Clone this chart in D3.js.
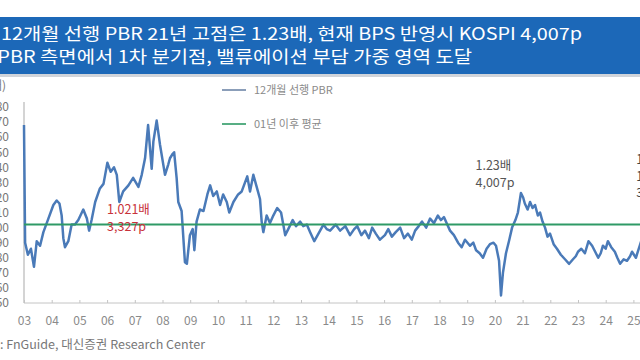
<!DOCTYPE html>
<html><head><meta charset="utf-8">
<script src="https://cdn.jsdelivr.net/npm/d3@7/dist/d3.min.js"></script>
<style>
html,body{margin:0;padding:0;background:#fff;overflow:hidden;}
svg{display:block;}
</style></head>
<body>
<script>
const titleLines = ["12개월 선행 PBR 21년 고점은 1.23배, 현재 BPS 반영시 KOSPI 4,007p",
                    "→ PBR 측면에서 1차 분기점, 밸류에이션 부담 가중 영역 도달"];
const sourceLabel = "자료";
const sourceText = ": FnGuide, 대신증권 Research Center";
const yearLabels = ["03","04","05","06","07","08","09","10","11","12","13","14","15","16","17","18","19","20","21","22","23","24","25"];
const yTicks = [0.5,0.6,0.7,0.8,0.9,1.0,1.1,1.2,1.3,1.4,1.5,1.6,1.7,1.8];
const avgPBR = 1.021;
const seriesNames = ["12개월 선행 PBR", "01년 이후 평균"];
const times = [2003.00,2003.04,2003.14,2003.25,2003.36,2003.46,2003.58,2003.70,2003.88,2004.06,2004.18,2004.28,2004.36,2004.42,2004.48,2004.60,2004.72,2004.84,2004.96,2005.14,2005.27,2005.35,2005.44,2005.57,2005.74,2005.87,2006.01,2006.13,2006.25,2006.35,2006.44,2006.58,2006.77,2006.94,2007.13,2007.25,2007.37,2007.48,2007.61,2007.67,2007.79,2007.91,2008.09,2008.21,2008.27,2008.37,2008.42,2008.51,2008.57,2008.69,2008.81,2008.88,2008.99,2009.09,2009.15,2009.23,2009.35,2009.48,2009.62,2009.72,2009.83,2009.96,2010.08,2010.19,2010.32,2010.41,2010.56,2010.73,2010.86,2010.98,2011.06,2011.16,2011.28,2011.40,2011.52,2011.58,2011.64,2011.76,2011.88,2012.00,2012.14,2012.28,2012.36,2012.43,2012.54,2012.70,2012.82,2012.97,2013.08,2013.21,2013.33,2013.48,2013.63,2013.81,2013.93,
  2014.05,2014.25,2014.41,2014.60,2014.77,2014.92,
  2015.03,2015.18,2015.31,2015.45,2015.57,2015.70,2015.85,
  2016.03,2016.15,2016.28,2016.42,2016.58,2016.72,2016.86,
  2017.00,2017.12,2017.25,2017.37,2017.52,2017.66,2017.80,2017.94,
  2018.05,2018.16,2018.28,2018.38,2018.52,2018.67,2018.80,2018.92,
  2019.10,2019.22,2019.32,2019.45,2019.57,2019.70,2019.82,2019.95,
  2020.04,2020.15,2020.22,
  2020.29,2020.40,2020.52,2020.62,2020.74,2020.83,2020.94,
  2021.02,2021.08,2021.18,2021.27,2021.36,2021.45,2021.55,2021.63,2021.72,2021.81,2021.90,2021.99,
  2022.12,2022.24,2022.38,2022.53,2022.68,2022.82,2022.92,
  2023.00,2023.12,2023.25,2023.38,2023.51,2023.62,2023.73,2023.82,2023.90,
  2024.00,2024.08,2024.20,2024.33,2024.42,2024.52,2024.65,2024.77,2024.88,2024.95,
  2025.02,2025.09,2025.16,2025.23,2025.35,2025.50,2025.65,2025.80];
const pbr = [1.68,0.90,0.82,0.86,0.74,0.91,0.88,0.97,1.06,1.15,1.18,1.16,1.08,0.93,0.87,0.91,1.02,1.02,1.05,1.12,1.06,0.98,1.05,1.17,1.26,1.29,1.43,1.37,1.40,1.35,1.17,1.24,1.28,1.33,1.27,1.35,1.46,1.68,1.39,1.57,1.71,1.55,1.35,1.42,1.46,1.49,1.50,1.33,1.17,1.11,0.77,0.76,0.95,0.99,0.85,1.04,1.12,1.11,1.22,1.28,1.21,1.24,1.15,1.22,1.17,1.10,1.17,1.22,1.24,1.30,1.34,1.24,1.35,1.27,1.19,1.04,0.97,1.08,1.03,1.08,1.13,1.10,1.02,0.95,0.99,1.05,1.01,1.04,1.01,1.02,0.97,0.91,0.96,1.02,0.99,
  0.98,1.02,0.98,1.01,0.95,0.99,
  1.01,0.95,0.98,0.93,1.00,0.96,0.92,
  0.95,0.99,0.94,0.97,1.00,0.93,0.96,
  0.92,0.98,1.01,1.04,1.00,1.06,1.03,1.08,
  1.05,1.07,1.02,0.98,0.95,0.90,0.87,0.92,
  0.88,0.90,0.85,0.83,0.80,0.86,0.89,0.90,
  0.88,0.78,0.55,
  0.70,0.83,0.92,1.00,1.05,1.10,1.23,
  1.20,1.16,1.12,1.17,1.13,1.15,1.08,1.10,1.04,1.00,0.94,0.96,
  0.89,0.86,0.82,0.79,0.76,0.79,0.81,
  0.84,0.86,0.83,0.91,0.88,0.84,0.80,0.83,0.88,
  0.86,0.91,0.87,0.84,0.80,0.76,0.79,0.78,0.81,0.84,
  0.82,0.80,0.84,0.88,0.95,1.05,1.12,1.20];
const notes = [
  {lines:["1.021배","3,327p"], t:2006.0, v:1.09, color:"#c8323a"},
  {lines:["1.23배","4,007p"], t:2019.3, v:1.38, color:"#555"},
  {lines:["10월","1.21배","3,950p"], t:2025.1, v:1.42, color:"#444"}
];

const W=640,H=360;
const svg=d3.select("body").append("svg").attr("width",W).attr("height",H);
svg.append("rect").attr("width",W).attr("height",H).attr("fill","#fff");
const FONT='"Noto Sans CJK KR","Noto Sans",sans-serif';

// header band
svg.append("rect").attr("x",0).attr("y",74).attr("width",W).attr("height",3).attr("fill","#d0d4da");
svg.append("rect").attr("x",0).attr("y",17).attr("width",W).attr("height",57).attr("fill","#1c68b8");
const tl = [[1, 40, 581],[-27, 63, 499]];
titleLines.forEach((s,i)=>{
  svg.append("text").attr("x",tl[i][0]).attr("y",tl[i][1]).attr("fill","#fff")
    .attr("font-family",FONT).attr("font-size",17).attr("font-weight",400)
    .attr("textLength",tl[i][2]).attr("lengthAdjust","spacingAndGlyphs").text(s);
});

const x=d3.scaleLinear().domain([2003,2025]).range([24,633.4]);
const y=d3.scaleLinear().domain([0.5,1.8]).range([303,107]);

// axes
const gy=svg.append("g").attr("transform","translate(24,0)")
  .call(d3.axisLeft(y).tickValues(yTicks).tickSize(0).tickPadding(15).tickFormat(d3.format(".2f")));
gy.select(".domain").attr("stroke","#a9a9a9").attr("d","M0,102V303");
gy.selectAll("text").attr("font-family",FONT).attr("font-size",12).attr("fill","#777");
svg.append("text").attr("x",6).attr("y",90).attr("text-anchor","end").attr("font-family",FONT)
  .attr("font-size",12).attr("fill","#777").text("(배)");

const gx=svg.append("g").attr("transform","translate(0,303)")
  .call(d3.axisBottom(x).tickValues(d3.range(2003,2026)).tickSize(-3).tickPadding(13)
  .tickFormat((d,i)=>yearLabels[i]));
gx.select(".domain").attr("stroke","#c4c4c4").attr("d","M24,0H640");
gx.selectAll("line").attr("stroke","#c4c4c4");
gx.selectAll("text").attr("font-family",FONT).attr("font-size",12).attr("fill","#8a8a8a");

// series
const data=times.map((t,i)=>({t,v:pbr[i]}));
svg.append("path").datum(data).attr("fill","none").attr("stroke","#4a7ab8").attr("stroke-width",2.5)
  .attr("stroke-linejoin","round")
  .attr("d",d3.line().x(d=>x(d.t)).y(d=>y(d.v)));
svg.append("line").attr("x1",24).attr("x2",W).attr("y1",y(avgPBR)).attr("y2",y(avgPBR))
  .attr("stroke","#2f9a66").attr("stroke-width",2);

// legend
const leg=[{c:"#6f86a8",y:90},{c:"#2f9a66",y:124}];
leg.forEach((l,i)=>{
  svg.append("line").attr("x1",222).attr("x2",246).attr("y1",l.y).attr("y2",l.y).attr("stroke",l.c).attr("stroke-width",1.6);
  svg.append("text").attr("x",254).attr("y",l.y+4).attr("font-family",FONT).attr("font-size",11)
    .attr("fill","#8a8a8a").text(seriesNames[i]);
});

// annotations
notes.forEach(n=>{
  n.lines.forEach((s,j)=>{
    svg.append("text").attr("x",x(n.t)).attr("y",y(n.v)+j*16.5).attr("font-family",FONT)
      .attr("font-size",12.5).attr("fill",n.color).text(s);
  });
});

// source
svg.append("text").attr("x",-1).attr("y",349).attr("text-anchor","end").attr("font-family",FONT)
  .attr("font-size",12).attr("fill","#777").text(sourceLabel);
svg.append("text").attr("x",0).attr("y",349).attr("font-family",FONT).attr("font-size",12)
  .attr("fill","#777").attr("textLength",205).attr("lengthAdjust","spacingAndGlyphs").text(sourceText);
</script>
</body></html>
